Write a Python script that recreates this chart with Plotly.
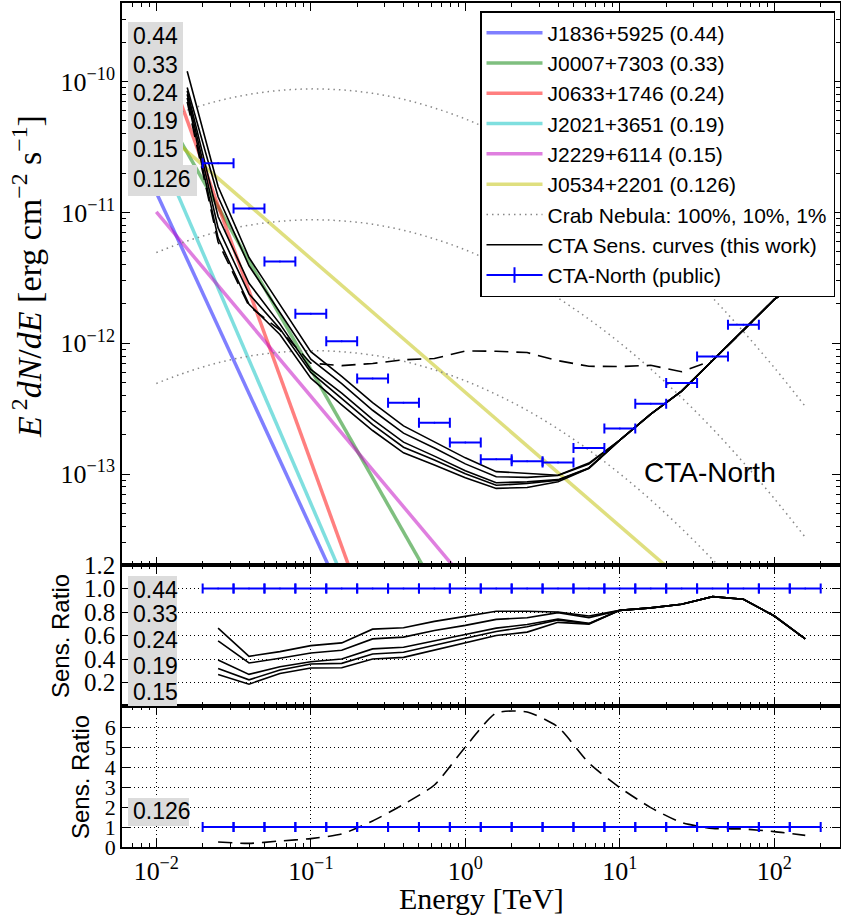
import numpy as np
import plotly.graph_objects as go
from plotly.subplots import make_subplots

# ---------------- data ----------------
# CTA-North public sensitivity: 5 bins per decade, bin centres in log10(E/TeV)
logE_centres = [-1.6, -1.4, -1.2, -1.0, -0.8, -0.6, -0.4, -0.2, 0.0, 0.2,
                0.4, 0.6, 0.8, 1.0, 1.2, 1.4, 1.6, 1.8, 2.0, 2.2]
bin_half_dex = 0.1
cta_north_public = [2.38e-11, 1.07e-11, 4.22e-12, 1.68e-12, 1.04e-12, 5.4e-13,
                    3.52e-13, 2.47e-13, 1.75e-13, 1.30e-13, 1.26e-13, 1.23e-13,
                    1.59e-13, 2.24e-13, 3.45e-13, 4.98e-13, 7.94e-13, 1.39e-12,
                    2.83e-12, 5.5e-12]
ratio_public = [1.0] * 20

# Sensitivity ratio (this work / public) for the five solid curves
ratio_044 = [0.663, 0.423, 0.463, 0.514, 0.537, 0.654, 0.666, 0.720, 0.763, 0.806,
             0.806, 0.800, 0.766, 0.814, 0.835, 0.866, 0.931, 0.909, 0.766, 0.571]
ratio_033 = [0.554, 0.366, 0.406, 0.451, 0.474, 0.571, 0.586, 0.643, 0.686, 0.737,
             0.751, 0.795, 0.752, 0.814, 0.835, 0.866, 0.931, 0.909, 0.766, 0.571]
ratio_024 = [0.391, 0.269, 0.334, 0.377, 0.400, 0.486, 0.500, 0.557, 0.609, 0.663,
             0.694, 0.740, 0.703, 0.814, 0.835, 0.866, 0.931, 0.909, 0.766, 0.571]
ratio_019 = [0.320, 0.223, 0.306, 0.357, 0.363, 0.443, 0.457, 0.520, 0.577, 0.634,
             0.674, 0.733, 0.700, 0.814, 0.835, 0.866, 0.931, 0.909, 0.766, 0.571]
ratio_015 = [0.269, 0.186, 0.277, 0.323, 0.326, 0.400, 0.414, 0.477, 0.537, 0.600,
             0.629, 0.712, 0.697, 0.814, 0.835, 0.866, 0.931, 0.909, 0.766, 0.571]
ratio_0126 = [0.25, 0.18, 0.30, 0.42, 0.65, 1.30, 2.13, 3.10, 5.00, 6.70,
              6.75, 6.00, 4.20, 2.97, 1.97, 1.22, 0.93, 0.90, 0.77, 0.58]

# first point (log10 E = -1.8) of the curves in the top panel
first_logE = -1.8
first_solid = [1.2e-10, 9.0e-11, 8.5e-11, 8.0e-11, 7.5e-11]
first_dashed = 7.0e-11

# Crab Nebula (100 %) E^2 dN/dE [erg cm^-2 s^-1]
crab_logE = [-2.0, -1.8, -1.6, -1.4, -1.2, -1.0, -0.8, -0.6, -0.4, -0.2, 0.0,
             0.2, 0.4, 0.6, 0.8, 1.0, 1.2, 1.4, 1.6, 1.8, 2.0, 2.2]
crab_100 = [4.94e-11, 6.05e-11, 7.11e-11, 7.98e-11, 8.55e-11, 8.79e-11, 8.63e-11,
            8.13e-11, 7.31e-11, 6.28e-11, 5.18e-11, 4.07e-11, 3.08e-11, 2.22e-11,
            1.53e-11, 1.01e-11, 6.37e-12, 3.85e-12, 2.23e-12, 1.23e-12, 6.52e-13,
            3.30e-13]
crab_fractions = [1.0, 0.1, 0.01]

# Pulsar power-law spectra (straight lines in log-log)
pulsar_names = ["J1836+5925 (0.44)", "J0007+7303 (0.33)", "J0633+1746 (0.24)",
                "J2021+3651 (0.19)", "J2229+6114 (0.15)", "J0534+2201 (0.126)"]
pulsar_colors = ["rgba(0,0,255,0.5)", "rgba(0,128,0,0.5)", "rgba(255,0,0,0.5)",
                 "rgba(0,191,191,0.5)", "rgba(191,0,191,0.5)", "rgba(191,191,0,0.5)"]
pulsar_E0 = [0.01, 0.01, 0.01, 0.01, 0.01, 0.01]
pulsar_F0 = [1.42e-11, 7.43e-11, 2.26e-10, 3.30e-11, 1.01e-11, 4.67e-11]
pulsar_E1 = [0.158, 1.0, 0.2, 0.158, 2.51, 31.6]
pulsar_F1 = [1.22e-14, 5.38e-15, 1.32e-14, 1.71e-14, 4.23e-15, 1.24e-14]

box_labels_top = ["0.44", "0.33", "0.24", "0.19", "0.15"]
box_label_crab = "0.126"

# ---------------- figure ----------------
W, H = 841, 923
L, R, T, B = 122, 1, 3, 76
PW, PH = W - L - R, H - T - B

def px(x):
    return (x - L) / PW

def py(y):
    return (H - B - y) / PH

fig = make_subplots(rows=3, cols=1, shared_xaxes=True, vertical_spacing=0,
                    row_heights=[562, 141, 141])

centres = 10 ** np.array(logE_centres)
lo = 10 ** (np.array(logE_centres) - bin_half_dex)
hi = 10 ** (np.array(logE_centres) + bin_half_dex)
public = np.array(cta_north_public)

# pulsar lines
for i, name in enumerate(pulsar_names):
    fig.add_trace(go.Scatter(x=[pulsar_E0[i], pulsar_E1[i]], y=[pulsar_F0[i], pulsar_F1[i]],
                             mode="lines", name=name, legendgroup=f"g{i}",
                             line=dict(color=pulsar_colors[i], width=3.5)), row=1, col=1)

# Crab curves
for k, f in enumerate(crab_fractions):
    fig.add_trace(go.Scatter(x=10 ** np.array(crab_logE), y=np.array(crab_100) * f,
                             mode="lines", name="Crab Nebula: 100%, 10%, 1%",
                             legendgroup="crab", showlegend=(k == 0),
                             line=dict(color="#888888", width=1.5, dash="1.5px,4px",
                                       shape="spline")), row=1, col=1)

ratios_solid = [ratio_044, ratio_033, ratio_024, ratio_019, ratio_015]
xs_main = np.concatenate([[10 ** first_logE], centres])
for i, rr in enumerate(ratios_solid):
    y = np.concatenate([[first_solid[i]], np.array(rr) * public])
    fig.add_trace(go.Scatter(x=xs_main, y=y, mode="lines",
                             name="CTA Sens. curves (this work)&nbsp;&nbsp;",
                             legendgroup="sens", showlegend=(i == 0),
                             line=dict(color="black", width=1.6)), row=1, col=1)
yd = np.concatenate([[first_dashed], np.array(ratio_0126) * public])
fig.add_trace(go.Scatter(x=xs_main, y=yd, mode="lines", showlegend=False,
                         line=dict(color="black", width=1.6, dash="14px,8px")), row=1, col=1)

def public_bars(yvals, row):
    fig.add_trace(go.Scatter(x=centres, y=yvals, mode="markers", showlegend=False,
                             marker=dict(size=2, color="blue"),
                             error_x=dict(type="data", symmetric=False,
                                          array=hi - centres, arrayminus=centres - lo,
                                          color="blue", thickness=2, width=5)),
                  row=row, col=1)

public_bars(public, 1)
fig.add_trace(go.Scatter(x=[None], y=[None], mode="lines+markers", name="CTA-North (public)",
                         legendgroup="pub",
                         line=dict(color="blue", width=2),
                         marker=dict(symbol="line-ns-open", size=11,
                                     line=dict(color="blue", width=2))), row=1, col=1)

# middle panel
for rr in ratios_solid:
    fig.add_trace(go.Scatter(x=centres, y=rr, mode="lines", showlegend=False,
                             line=dict(color="black", width=1.6)), row=2, col=1)
public_bars(ratio_public, 2)

# bottom panel
fig.add_trace(go.Scatter(x=centres, y=ratio_0126, mode="lines", showlegend=False,
                         line=dict(color="black", width=1.6, dash="14px,8px",
                                   shape="spline", smoothing=0.6)), row=3, col=1)
public_bars(ratio_public, 3)

# ---------------- axes ----------------
serif = "Liberation Serif, DejaVu Serif, serif"
sans = "Liberation Sans, Arial, sans-serif"
xminor = [k * 10.0 ** n for n in range(-3, 3) for k in range(2, 10)]
xticks = [0.01, 0.1, 1, 10, 100]
xtext = ["10<sup>−2</sup>", "10<sup>−1</sup>", "10<sup>0</sup>", "10<sup>1</sup>", "10<sup>2</sup>"]
common_x = dict(type="log", range=[-2.222, 2.425], showline=True, linecolor="black",
                linewidth=1.6, mirror="allticks", ticks="inside", ticklen=8,
                tickcolor="black", tickwidth=1, tickmode="array", tickvals=xticks,
                ticktext=xtext, tickfont=dict(family=serif, size=26, color="black"),
                minor=dict(tickmode="array", tickvals=xminor, ticks="inside",
                           ticklen=4, tickcolor="black", tickwidth=1, showgrid=False),
                zeroline=False, automargin=False)
fig.update_xaxes(**common_x)
fig.update_xaxes(showgrid=False, showticklabels=False, row=1, col=1)
fig.update_xaxes(showgrid=True, gridcolor="black", griddash="1px,3px", gridwidth=1,
                 showticklabels=False, row=2, col=1)
fig.update_xaxes(showgrid=True, gridcolor="black", griddash="1px,3px", gridwidth=1,
                 showticklabels=True, row=3, col=1)

yminor = [k * 10.0 ** n for n in range(-14, -9) for k in range(2, 10)]
fig.update_yaxes(type="log", range=[-13.693, -9.4], showline=True, linecolor="black",
                 linewidth=1.6, mirror="allticks", ticks="inside", ticklen=8,
                 tickcolor="black", tickmode="array",
                 tickvals=[1e-13, 1e-12, 1e-11, 1e-10],
                 ticktext=["10<sup>−13</sup>", "10<sup>−12</sup>", "10<sup>−11</sup>",
                           "10<sup>−10</sup>"],
                 tickfont=dict(family=serif, size=26, color="black"),
                 minor=dict(tickmode="array", tickvals=yminor, ticks="inside", ticklen=4,
                            tickcolor="black", tickwidth=1, showgrid=False),
                 showgrid=False, zeroline=False, automargin=False, row=1, col=1)
fig.update_yaxes(range=[0, 1.2], showline=True, linecolor="black", linewidth=1.6,
                 mirror="allticks", ticks="inside", ticklen=8, tickcolor="black",
                 tickmode="array", tickvals=[0.2, 0.4, 0.6, 0.8, 1.0, 1.2],
                 ticktext=["0.2", "0.4", "0.6", "0.8", "1.0", "1.2"],
                 tickfont=dict(family=serif, size=25, color="black"),
                 showgrid=True, gridcolor="black", griddash="1px,3px", gridwidth=1,
                 zeroline=False, automargin=False, row=2, col=1)
fig.update_yaxes(range=[0, 7.05], showline=True, linecolor="black", linewidth=1.6,
                 mirror="allticks", ticks="inside", ticklen=8, tickcolor="black",
                 tickmode="array", tickvals=[0, 1, 2, 3, 4, 5, 6],
                 tickfont=dict(family=serif, size=22, color="black"),
                 showgrid=True, gridcolor="black", griddash="1px,3px", gridwidth=1,
                 zeroline=False, automargin=False, row=3, col=1)

# ---------------- label boxes ----------------
shapes = []
annots = []
box = "#dcdcdc"
def rect(x0, y0, x1, y1):
    shapes.append(dict(type="rect", xref="paper", yref="paper", x0=px(x0), x1=px(x1),
                       y0=py(y1), y1=py(y0), fillcolor=box, line=dict(width=0),
                       layer="above"))

def label(text, x, y, size=23, font=sans, anchor="left", angle=0):
    annots.append(dict(text=text, xref="paper", yref="paper", x=px(x), y=py(y),
                       xanchor=anchor, yanchor="middle", showarrow=False,
                       textangle=angle, font=dict(family=font, size=size, color="black")))

rect(128, 22, 183, 166)
rect(128, 165, 197, 196)
for t, yy in zip(box_labels_top + [box_label_crab], [36, 64.5, 93, 121, 149.5, 179]):
    label(t, 131, yy)

rect(128, 576, 177, 706)
for t, yy in zip(box_labels_top, [590, 614, 640, 666, 692]):
    label(t, 131, yy)

rect(128, 798, 189, 826)
label(box_label_crab, 131, 811)

label("CTA-North", 710, 473, size=28, anchor="center")

# axis titles
label("<i>E</i><sup> 2</sup><i>dN</i>/<i>dE</i> [erg cm<sup>−2</sup> s<sup>−1</sup>]",
      27, 277, size=34, font=serif, anchor="center", angle=-90)
label("Sens. Ratio", 60, 636, size=24, anchor="center", angle=-90)
label("Sens. Ratio", 80, 777, size=24, anchor="center", angle=-90)
label("Energy [TeV]", 481, 898, size=30, font=serif, anchor="center")

fig.update_layout(
    width=W, height=H, margin=dict(l=L, r=R, t=T, b=B, pad=0, autoexpand=False),
    paper_bgcolor="white", plot_bgcolor="white",
    shapes=shapes, annotations=annots,
    legend=dict(x=px(480), y=py(11), xanchor="left", yanchor="top",
                bgcolor="white", bordercolor="black", borderwidth=1.5,
                font=dict(family=sans, size=21, color="black"),
                tracegroupgap=3, traceorder="normal", itemwidth=56),
    showlegend=True,
)

fig.write_html("out.html")
